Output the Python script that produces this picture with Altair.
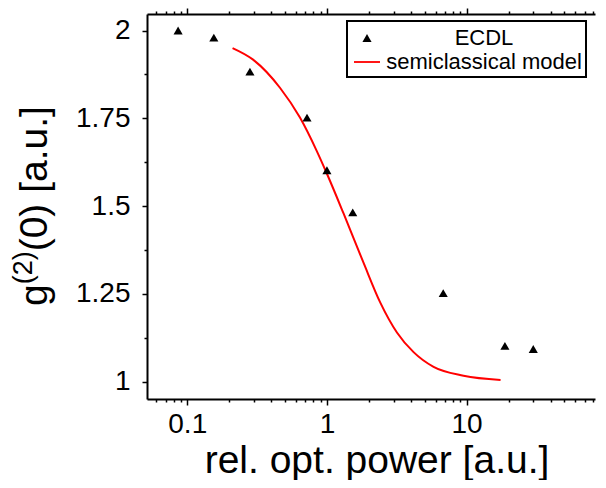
import altair as alt
import pandas as pd

# ---- data ----
ecdl_x = [0.086, 0.155, 0.281, 0.72, 1.0, 1.53, 6.8, 18.8, 30.0]
ecdl_y = [2.0, 1.98, 1.883, 1.752, 1.602, 1.482, 1.252, 1.102, 1.093]

model_x = [0.211, 0.296, 0.461, 0.641, 0.843, 1.0, 1.315, 1.83, 2.41, 3.17, 4.17, 5.8, 9.5, 17.5]
model_y = [1.950, 1.917, 1.837, 1.752, 1.658, 1.592, 1.479, 1.338, 1.225, 1.140, 1.084, 1.042, 1.017, 1.005]

series = ["ECDL", "semiclassical model"]

x_ticks = [0.06, 0.07, 0.08, 0.09, 0.1, 0.2, 0.3, 0.4, 0.5, 0.6, 0.7, 0.8, 0.9,
           1, 2, 3, 4, 5, 6, 7, 8, 9, 10, 20, 30, 40, 50, 60, 70, 80]
x_major = [0.1, 1, 10]
y_ticks = [1, 1.125, 1.25, 1.375, 1.5, 1.625, 1.75, 1.875, 2]
y_major = [1, 1.25, 1.5, 1.75, 2]

x_title = "rel. opt. power [a.u.]"
y_title_parts = ["g", "(2)", "(0) [a.u.]"]

FONT = "Liberation Sans"
W, H = 448, 385

pts = pd.DataFrame({"x": ecdl_x, "y": ecdl_y, "series": [series[0]] * len(ecdl_x)})
model = pd.DataFrame({"x": model_x, "y": model_y})

xscale = alt.Scale(type="log", domain=[0.0515, 83], nice=False)
yscale = alt.Scale(domain=[0.9506, 2.047], nice=False, zero=False)

xmaj_test = "indexof(" + str(x_major) + ", datum.value) >= 0"
ymaj_test = "indexof(" + str(y_major) + ", datum.value) >= 0"

common_axis = dict(
    domainColor="black", domainWidth=2, tickColor="black", tickWidth=1.5,
    labelColor="black", labelFont=FONT, labelFontSize=28, grid=False,
    labelFlush=False, labelOverlap=False,
)

x_axis_bottom = alt.Axis(
    orient="bottom", values=x_ticks,
    tickSize={"condition": {"test": xmaj_test, "value": 6}, "value": 3},
    labelExpr=xmaj_test + " ? toString(datum.value) : ''",
    labelPadding=5,
    title=x_title, titleFont=FONT, titleFontSize=39, titleFontWeight="normal",
    titleColor="black", titleX=229.5, titleY=73, titleBaseline="alphabetic",
    titleAlign="center", titleAnchor="start",
    **common_axis,
)
x_axis_top = alt.Axis(
    orient="top", values=x_ticks, labels=False, title=None,
    tickSize={"condition": {"test": xmaj_test, "value": 6}, "value": 3},
    **common_axis,
)
y_axis_left = alt.Axis(
    orient="left", values=y_ticks, title=None,
    tickSize={"condition": {"test": ymaj_test, "value": 5}, "value": 3},
    labelExpr=ymaj_test + " ? toString(datum.value) : ''",
    labelPadding=12,
    **common_axis,
)

tri_path = "M0,-0.3L0.35,0.3L-0.35,0.3Z"
line_path = "M-1,-0.07L1,-0.07L1,0.07L-1,0.07Z"

legend = alt.Legend(
    title=None, orient="none", legendX=200, legendY=7,
    strokeColor="black", fillColor="white", padding=4,
    symbolOffset=3, symbolSize=676, symbolStrokeWidth=0,
    labelFont=FONT, labelFontSize=22, labelColor="black", labelLimit=400,
    labelAlign="center", labelOffset=104, rowPadding=0,
)

points = alt.Chart(pts).mark_point(filled=True, size=676, opacity=1, strokeWidth=0).encode(
    x=alt.X("x:Q", scale=xscale, axis=x_axis_bottom),
    y=alt.Y("y:Q", scale=yscale, axis=y_axis_left),
    color=alt.Color("series:N", scale=alt.Scale(domain=series, range=["black", "red"]), legend=legend),
    shape=alt.Shape("series:N", scale=alt.Scale(domain=series, range=[tri_path, line_path]), legend=legend),
)

line = alt.Chart(model).mark_line(color="red", strokeWidth=2, interpolate="monotone").encode(
    x=alt.X("x:Q", scale=xscale, axis=None),
    y=alt.Y("y:Q", scale=yscale, axis=None),
)

top_axis = alt.Chart(pts).mark_point(opacity=0).encode(
    x=alt.X("x:Q", scale=xscale, axis=x_axis_top),
    y=alt.Y("y:Q", scale=yscale, axis=None),
)

# composed y-axis title with superscript
ydf = pd.DataFrame({"t": [0]})
main_x = -100
g_y = 292
g_w = 0.556 * 39
sup_fs = 27
sup_w = 1.222 * sup_fs
t1 = alt.Chart(ydf).mark_text(font=FONT, fontSize=39, angle=270, align="left",
                               baseline="alphabetic", color="black").encode(
    x=alt.value(main_x), y=alt.value(g_y), text=alt.value(y_title_parts[0]))
t2 = alt.Chart(ydf).mark_text(font=FONT, fontSize=sup_fs, angle=270, align="left",
                               baseline="alphabetic", color="black").encode(
    x=alt.value(main_x - 15), y=alt.value(g_y - g_w), text=alt.value(y_title_parts[1]))
t3 = alt.Chart(ydf).mark_text(font=FONT, fontSize=39, angle=270, align="left",
                               baseline="alphabetic", color="black").encode(
    x=alt.value(main_x), y=alt.value(g_y - g_w - sup_w), text=alt.value(y_title_parts[2]))

chart = alt.layer(line, points, top_axis, t1, t2, t3).resolve_axis(
    x="independent", y="independent"
).properties(
    width=W, height=H,
    autosize=alt.AutoSizeParams(type="none"),
    padding={"left": 139, "top": 6, "right": 3, "bottom": 81},
).configure_view(stroke=None).configure_legend(strokeWidth=2)

chart.save("out.html", embed_options={"renderer": "svg", "actions": False})
